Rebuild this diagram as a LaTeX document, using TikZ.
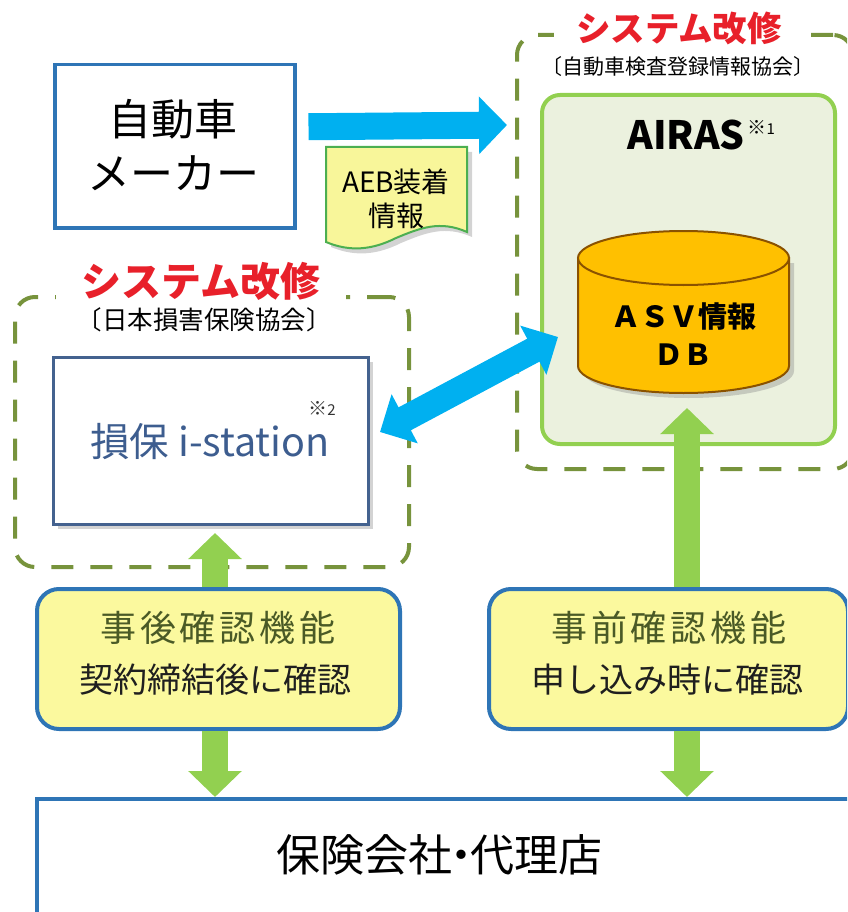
\documentclass[tikz,border=0pt]{standalone}
\usepackage{fontspec}
\setmainfont{Noto Sans CJK JP}
\usetikzlibrary{arrows.meta,shadows,calc}
\definecolor{arrblue}{HTML}{00B0F0}
\definecolor{arrgreen}{HTML}{92D050}
\definecolor{dashgreen}{HTML}{77933C}
\definecolor{boxblue}{HTML}{2E75B6}
\definecolor{yel}{HTML}{FBF99E}
\definecolor{lgreen}{HTML}{EBF1DE}
\definecolor{cylfill}{HTML}{FFC000}
\definecolor{cylline}{HTML}{8A5200}
\definecolor{titred}{HTML}{E8202A}
\definecolor{olivetxt}{HTML}{4A5A26}
\definecolor{isblue}{HTML}{3D5D8F}
\definecolor{isline}{HTML}{44628F}
\definecolor{tagline}{HTML}{4CAF50}
\definecolor{tagfill}{HTML}{F8F69A}
\newcommand\fsz[1]{\fontsize{#1}{#1}\selectfont}
\begin{document}
\begin{tikzpicture}[x=1pt,y=-1pt,
  dashbox/.style={draw=dashgreen, line width=4pt, dash pattern=on 22pt off 17pt, rounded corners=20pt, anchor=north west, inner sep=0pt},
  sqbox/.style={draw=boxblue, line width=3.5pt, fill=white, anchor=north west, inner sep=0pt},
  funcbox/.style={draw=boxblue, line width=4pt, fill=yel, rounded corners=22pt, anchor=north west, inner sep=0pt},
  greenarr/.style={draw=arrgreen, line width=26pt, -{Triangle[width=52pt,length=26pt]}},
  bluearr/.style={draw=arrblue, line width=27pt, -{Triangle[width=56pt,length=28pt]}},
  bluedbl/.style={draw=arrblue, line width=26pt, {Triangle[width=54pt,length=28pt]}-{Triangle[width=54pt,length=28pt]}},
  titlebox/.style={fill=white, text=titred, inner ysep=3pt},
  shad/.style={drop shadow={opacity=0.35, shadow xshift=5pt, shadow yshift=-5pt}},
]
\useasboundingbox (0,0) rectangle (847,912);
\clip (0,0) rectangle (847,912);

% dashed system areas
\node[dashbox, minimum width=336pt, minimum height=434pt] (rsys) at (515,33) {};
\node[dashbox, minimum width=394pt, minimum height=270pt] (lsys) at (13,295) {};
\node[titlebox, font=\fsz{34.5}\bfseries, inner xsep=22pt] (rtitle) at (679,28) {システム改修};
\node[titlebox, font=\fsz{40}\bfseries, inner xsep=26pt] (ltitle) at (201,281) {システム改修};
\node[font=\fsz{21}] (rsub) at (678,67) {〔自動車検査登録情報協会〕};
\node[font=\fsz{25.5}] (lsub) at (204,320) {〔日本損害保険協会〕};

% AIRAS
\node[draw=arrgreen, line width=4pt, fill=lgreen, rounded corners=18pt, minimum width=293pt, minimum height=349pt, anchor=north west, inner sep=0pt] (airas) at (540,93) {};
\node[font=\fsz{39}\bfseries] (airast) at (686,135) {AIRAS};
\node[font=\fsz{19}, anchor=west] (note1) at (744,127) {※\fsz{15}1};

% cylinder
\path[fill=cylfill, draw=cylline, line width=2pt, shad] (578,258) -- (578,366) arc[start angle=180, end angle=0, x radius=105.5, y radius=27] -- (789,258) -- cycle;
\draw[fill=cylfill, draw=cylline, line width=2pt] (683.5,258) ellipse[x radius=105.5, y radius=27];
\node[font=\fsz{29}\bfseries, align=center] (db) at (683.5,334) {ＡＳＶ情報\\[9pt]ＤＢ};

% i-station
\node[draw=isline, line width=2.5pt, fill=white, minimum width=315pt, minimum height=167pt, anchor=north west, inner sep=0pt, shad] (ist) at (52,356) {};
\node[font=\fsz{39.5}, text=isblue] (istt) at (210,442) {損保 i-station};
\node[font=\fsz{19}, text=black!80] (note2) at (322,408) {※\fsz{15}2};

% maker
\node[sqbox, minimum width=240pt, minimum height=163pt] (maker) at (53,63) {};
\node[font=\fsz{43}, align=center] (makert) at (173,145) {自動車\\[11pt]メーカー};

% AEB tag
\path[fill=tagfill, draw=tagline, line width=2pt, shad] (326,147) -- (467,147) -- (467,232) .. controls (440,220) and (420,228) .. (396,238) .. controls (372,250) and (350,252) .. (326,242) -- cycle;
\node[font=\fsz{28}, align=center] (tag) at (396,199) {AEB装着\\[6pt]情報};

% lower boxes
\node[funcbox, minimum width=363pt, minimum height=140pt] (post) at (35,587) {};
\node[funcbox, minimum width=359pt, minimum height=140pt] (pre) at (487,587) {};
\node[sqbox, minimum width=835pt, minimum height=160pt] (ins) at (35,797) {};
\node[font=\fsz{36}, text=olivetxt] (postt1) at (218,628) {\addfontfeature{LetterSpace=11}事後確認機能};
\node[font=\fsz{34}, text=black!88] (postt2) at (215,680) {契約締結後に確認};
\node[font=\fsz{36}, text=olivetxt] (pret1) at (669,628) {\addfontfeature{LetterSpace=11}事前確認機能};
\node[font=\fsz{34}, text=black!88] (pret2) at (667,680) {申し込み時に確認};
\node[font=\fsz{44}] (inst) at (439,855) {保険会社\hspace{-13pt}・\hspace{-13pt}代理店};

% arrows
\coordinate (mtip) at (507,125);
\draw[bluearr] ($(maker.east)+(12,-19.5)$) -- (mtip);
\coordinate (bl) at (380,432);
\coordinate (br) at (558,337);
\draw[bluedbl] (bl) -- (br);
\coordinate (lx) at (215,0);
\coordinate (rx) at (687,0);
\coordinate (dbtip) at (687,408);
\coordinate (isttip) at (215,533);
\draw[greenarr] (lx |- post.north) -- (isttip);
\draw[greenarr] (rx |- pre.north) -- (dbtip);
\draw[greenarr] (lx |- post.south) -- (lx |- ins.north);
\draw[greenarr] (rx |- pre.south) -- (rx |- ins.north);
\end{tikzpicture}
\end{document}
